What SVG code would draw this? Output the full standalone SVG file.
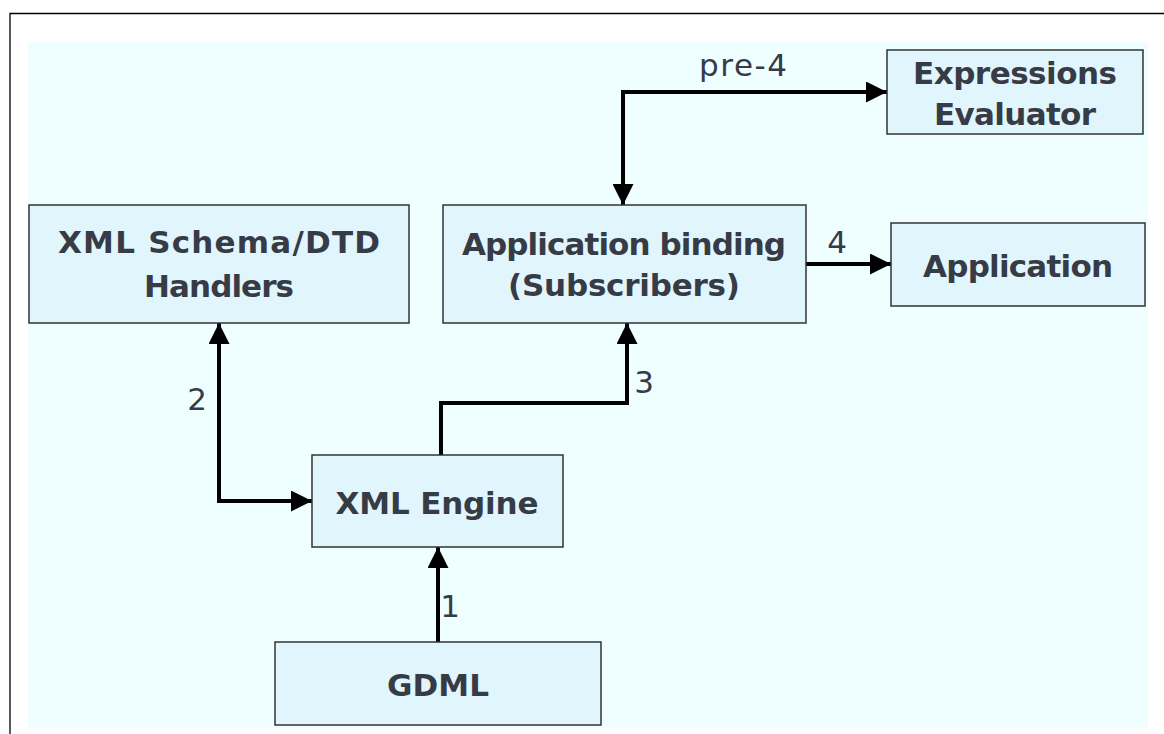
<svg xmlns="http://www.w3.org/2000/svg" width="1164" height="734" viewBox="0 0 1164 734">
<defs>
<style>
.box{fill:#E0F6FC;stroke:#333;stroke-width:1.5}
.bt{font-family:"DejaVu Sans","Liberation Sans",sans-serif;font-weight:bold;font-size:31px;fill:#363b45;text-anchor:middle}
.lbl{font-family:"DejaVu Sans","Liberation Sans",sans-serif;font-size:31px;fill:#363b45;text-anchor:middle}
.conn{fill:none;stroke:#000;stroke-width:4;stroke-linejoin:miter}
</style>
<marker id="arr" markerUnits="userSpaceOnUse" markerWidth="21" markerHeight="21" refX="21" refY="10.5" orient="auto-start-reverse">
<path d="M0,0 L21,10.5 L0,21 z" fill="#000"/>
</marker>
</defs>
<rect x="0" y="0" width="1164" height="734" fill="#fff"/>
<path d="M10,734 L10,13.5 L1164,13.5" fill="none" stroke="#000" stroke-width="1.3"/>
<rect x="28" y="42" width="1120" height="686" fill="#EFFFFF"/>

<g id="connectors">
<path class="conn" d="M623,205 L623,92 L887,92" marker-start="url(#arr)" marker-end="url(#arr)"/>
<path class="conn" d="M806,264 L891,264" marker-end="url(#arr)"/>
<path class="conn" d="M441,455 L441,403 L627,403 L627,323" marker-end="url(#arr)"/>
<path class="conn" d="M219,323 L219,501 L312,501" marker-start="url(#arr)" marker-end="url(#arr)"/>
<path class="conn" d="M438,642 L438,547" marker-end="url(#arr)"/>
<text class="lbl" x="743" y="76" textLength="88" lengthAdjust="spacing">pre-4</text>
<text class="lbl" x="837" y="253">4</text>
<text class="lbl" x="644" y="393">3</text>
<text class="lbl" x="197" y="410">2</text>
<text class="lbl" x="450" y="617">1</text>
</g>

<g id="schema">
<rect class="box" x="29" y="205" width="380" height="118"/>
<text class="bt" x="219" y="253" textLength="322" lengthAdjust="spacing">XML Schema/DTD</text>
<text class="bt" x="219" y="297" textLength="150" lengthAdjust="spacing">Handlers</text>
</g>
<g id="binding">
<rect class="box" x="443" y="205" width="363" height="118"/>
<text class="bt" x="624" y="255" textLength="324" lengthAdjust="spacing">Application binding</text>
<text class="bt" x="624" y="296" textLength="232" lengthAdjust="spacing">(Subscribers)</text>
</g>
<g id="expressions">
<rect class="box" x="887" y="50" width="256" height="84"/>
<text class="bt" x="1015" y="84" textLength="204" lengthAdjust="spacing">Expressions</text>
<text class="bt" x="1015" y="125" textLength="162" lengthAdjust="spacing">Evaluator</text>
</g>
<g id="application">
<rect class="box" x="891" y="223" width="254" height="83"/>
<text class="bt" x="1018" y="277" textLength="190" lengthAdjust="spacing">Application</text>
</g>
<g id="engine">
<rect class="box" x="312" y="455" width="251" height="92"/>
<text class="bt" x="437" y="514" textLength="203" lengthAdjust="spacing">XML Engine</text>
</g>
<g id="gdml">
<rect class="box" x="275" y="642" width="326" height="83"/>
<text class="bt" x="438" y="696" textLength="102" lengthAdjust="spacing">GDML</text>
</g>
</svg>
